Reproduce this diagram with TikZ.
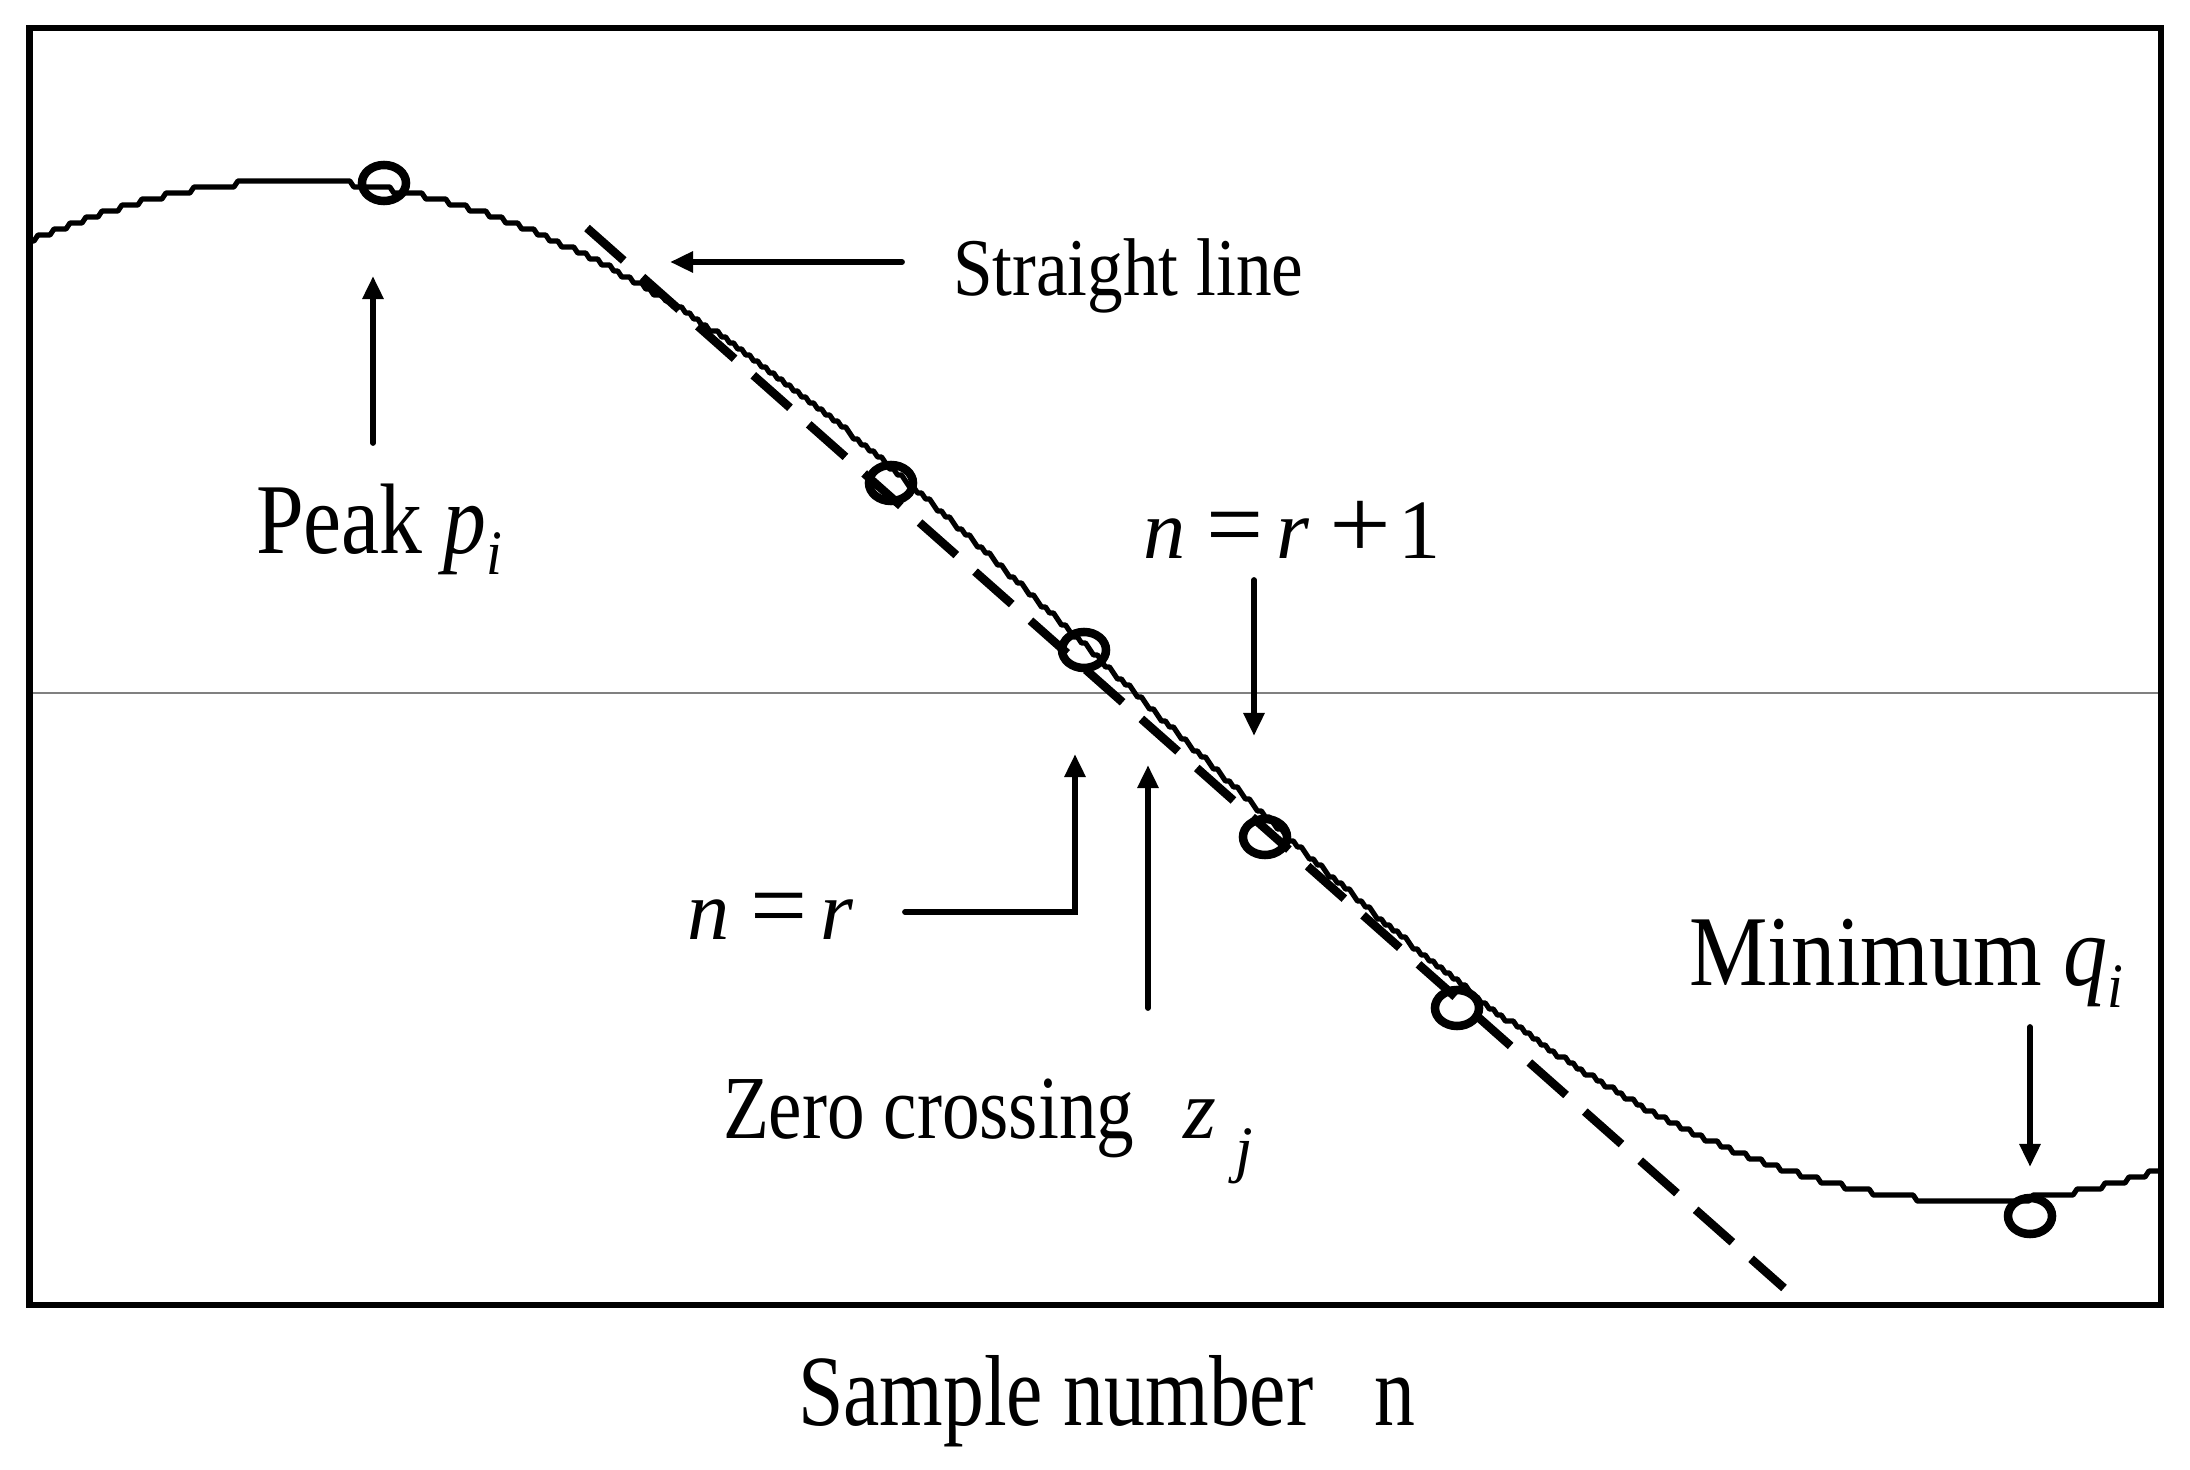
\documentclass[tikz,border=0pt]{standalone}
\usepackage{fontspec}
\setmainfont{Liberation Serif}
\usepackage{graphicx}
\usetikzlibrary{arrows.meta,shapes.geometric}
\tikzset{
  frame/.style={line width=0.06cm, line join=miter},
  zeroline/.style={line width=0.015cm, draw=black!50},
  sig/.style={line width=0.052cm, line join=round},
  fit/.style={line width=0.085cm, dash pattern=on 0.49cm off 0.25cm},
  samp/.style={ellipse, draw, line width=0.085cm, minimum width=0.44cm, minimum height=0.36cm, inner sep=0pt},
  arr/.style={line width=0.058cm, line cap=round, -{Triangle[width=0.2cm,length=0.23cm]}},
  lbl/.style={anchor=base west, inner sep=0pt, outer sep=0pt},
}
\newcommand{\fsz}[1]{\fontsize{#1}{#1}\selectfont}
\newcommand{\beq}{\scalebox{1.2}{=}}
\newcommand{\bplus}{\scalebox{1.3}[1.2]{+}}
\begin{document}
\begin{tikzpicture}[x=0.01cm, y=-0.01cm]
\useasboundingbox (0,0) rectangle (2190,1470);
% zero line and frame
\draw[zeroline] (29.5,693) -- (2161,693);
% quantised sinusoid
\draw[sig] plot[domain=30:2161, samples=534] (\x, {691 - 6*round(85*cos((\x-293)/1680*180))});
\draw[frame] (29.5,28) rectangle (2161,1305);
% straight-line fit
\coordinate (f1) at (587,228);
\coordinate (f2) at (1784,1288);
\draw[fit] (f1) -- (f2);
% sample markers
\node[samp] (pkc) at (384,183) {};
\node[samp] (s1) at (891,483) {};
\node[samp] (s2) at (1084,650) {};
\node[samp] (s3) at (1265,837) {};
\node[samp] (s4) at (1457,1008) {};
\node[samp] (mnc) at (2030,1216) {};
% labels
\node[lbl] (sl) at (953,296) {\fsz{23.3}\scalebox{0.87}[1]{Straight line}};
\node[lbl] (pk) at (256,554) {\fsz{28.5}\scalebox{0.855}[1]{Peak \textit{p}}\raisebox{-0.2em}{\fsz{18}\scalebox{0.9}[1]{\textit{i}}}};
\node[lbl] (nr1) at (1143,559) {\fsz{24}\textit{n}\hspace{0.25em}\beq\hspace{0.15em}\textit{r}\hspace{0.24em}\bplus\hspace{0.08em}1};
\node[lbl] (nr) at (687,939) {\fsz{24}\textit{n}\hspace{0.25em}\beq\hspace{0.15em}\textit{r}};
\node[lbl] (zc) at (723,1138) {\fsz{25.6}\scalebox{0.835}[1]{Zero crossing}\hspace{0.55em}\fsz{24}\textit{z}\hspace{0.22em}\raisebox{-0.38em}{\fsz{18}\textit{j}}};
\node[lbl] (mn) at (1689,985) {\fsz{28.5}\scalebox{0.88}[1]{Minimum \textit{q}}\raisebox{-0.22em}{\fsz{18}\scalebox{0.9}[1]{\textit{i}}}};
\node[lbl] (xl) at (798,1425) {\fsz{28.7}\scalebox{0.81}[1]{Sample number\hspace{0.75em}n}};
% arrows
\coordinate (a1s) at (373,443); \coordinate (a1e) at (373,276);
\draw[arr] (a1s) -- (a1e);
\coordinate (a2s) at (902,262); \coordinate (a2e) at (670,262);
\draw[arr] (a2s) -- (a2e);
\coordinate (a3s) at (1254,580); \coordinate (a3e) at (1254,736);
\draw[arr] (a3s) -- (a3e);
\coordinate (a4s) at (905,912); \coordinate (a4m) at (1075,912); \coordinate (a4e) at (1075,754);
\draw[arr] (a4s) -- (a4m) -- (a4e);
\coordinate (a5s) at (1148,1008); \coordinate (a5e) at (1148,765);
\draw[arr] (a5s) -- (a5e);
\coordinate (a6s) at (2030,1027); \coordinate (a6e) at (2030,1167);
\draw[arr] (a6s) -- (a6e);
\end{tikzpicture}
\end{document}
